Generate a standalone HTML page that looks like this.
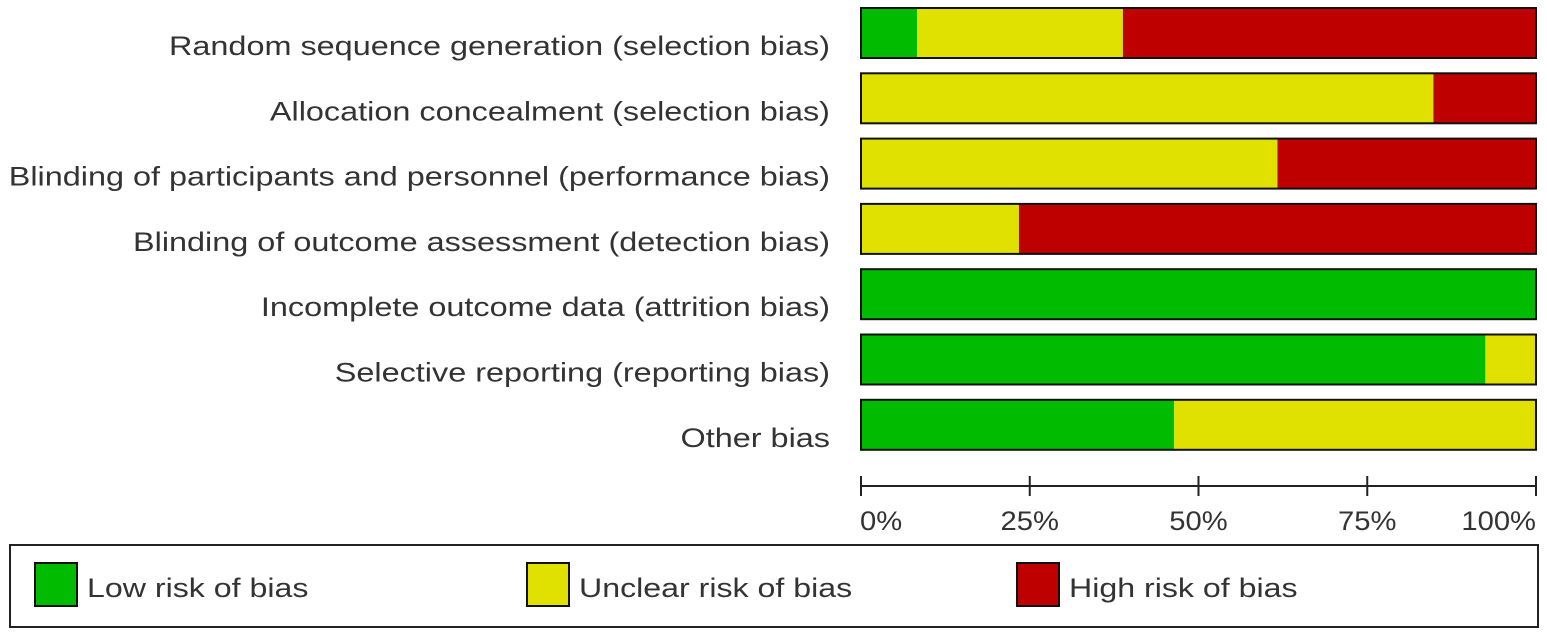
<!DOCTYPE html>
<html><head><meta charset="utf-8"><style>
body{margin:0;background:#fff;width:1547px;height:635px;overflow:hidden;font-family:"Liberation Sans",sans-serif;}
</style></head><body>
<svg width="1547" height="635" id="chart" font-family="Liberation Sans, sans-serif"></svg>
<script>
const categories=["Random sequence generation (selection bias)","Allocation concealment (selection bias)","Blinding of participants and personnel (performance bias)","Blinding of outcome assessment (detection bias)","Incomplete outcome data (attrition bias)","Selective reporting (reporting bias)","Other bias"];
const lowRisk=[8.3,0,0,0,100,92.5,46.4];
const unclearRisk=[30.5,84.8,61.7,23.4,0,7.5,53.6];
const highRisk=[61.2,15.2,38.3,76.6,0,0,0];
const ticks=[0,25,50,75,100];
const tickLabels=["0%","25%","50%","75%","100%"];
const legendLabels=["Low risk of bias","Unclear risk of bias","High risk of bias"];
const colors=["#00bb00","#e1e100","#bf0000"];
const NS="http://www.w3.org/2000/svg";
const svg=document.getElementById('chart');
const x0=861,x1=1536;
function xs(v){return x0+(x1-x0)*v/100;}
function ys(i){return 8+i*65.3;}
const bh=50;
function mk(t,a){const e=document.createElementNS(NS,t);for(const k in a)e.setAttribute(k,a[k]);svg.appendChild(e);return e;}
function stretch(t,f){const w=t.getComputedTextLength();t.setAttribute('textLength',w*f);t.setAttribute('lengthAdjust','spacingAndGlyphs');}
const series=[lowRisk,unclearRisk,highRisk];
categories.forEach((c,i)=>{
  const t=mk('text',{x:830,y:ys(i)+bh/2+22,'text-anchor':'end','font-size':27,fill:'#333'});
  t.textContent=c;
  
  
  stretch(t,1.2);
  let acc=0;
  series.forEach((s,k)=>{
    if(s[i]>0){
      const r=mk('rect',{x:xs(acc),y:ys(i),width:xs(acc+s[i])-xs(acc),height:bh,fill:colors[k]});
      
      
    }
    acc+=s[i];
  });
  const b=mk('rect',{x:x0,y:ys(i),width:x1-x0,height:bh,fill:'none',stroke:'#111','stroke-width':2});
  
  
});
const ax=mk('line',{x1:x0,x2:x1,y1:486,y2:486,stroke:'#222','stroke-width':2});


ticks.forEach((v,i)=>{
  const l=mk('line',{x1:xs(v),x2:xs(v),y1:476,y2:496,stroke:'#222','stroke-width':2});
  
  
  const anchor=i==0?'start':(i==ticks.length-1?'end':'middle');
  const t=mk('text',{x:xs(v)+(i==0?-1:0),y:530,'text-anchor':anchor,'font-size':27,fill:'#333'});
  t.textContent=tickLabels[i];
  
  
  stretch(t,1.08);
});
const lb=mk('rect',{x:10,y:545,width:1528,height:82,fill:'none',stroke:'#222','stroke-width':2});


const lx=[35,527,1017];
legendLabels.forEach((s,i)=>{
  const r=mk('rect',{x:lx[i],y:563,width:42,height:43,fill:colors[i],stroke:'#111','stroke-width':2});
  
  
  const t=mk('text',{x:lx[i]+52,y:597,'font-size':27,fill:'#333'});
  t.textContent=s;
  
  
  stretch(t,1.19);
});
</script>
</body></html>
